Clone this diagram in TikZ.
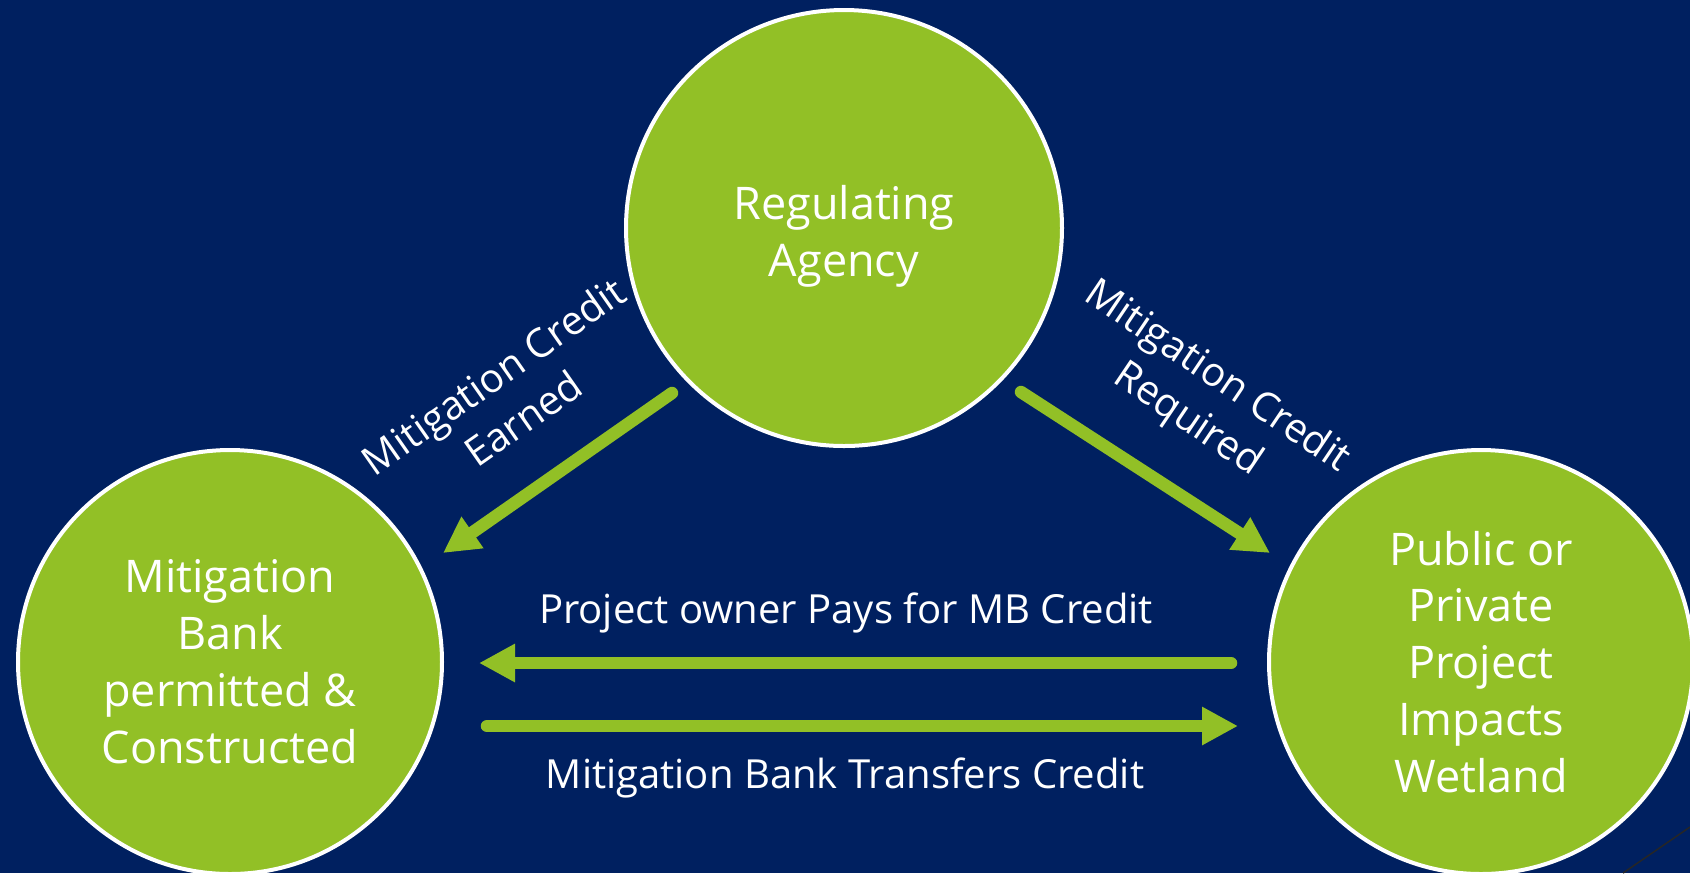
\documentclass[tikz,border=0pt]{standalone}
\usepackage{fontspec}
\setmainfont{Open Sans}
\usetikzlibrary{arrows.meta}
\definecolor{slidenavy}{RGB}{0,32,96}
\definecolor{leafgreen}{RGB}{146,192,38}
\tikzset{
	bubble/.style={circle, fill=leafgreen, draw=white, line width=0.4mm, inner sep=0pt,
		align=center, text=white, font=\fontsize{12.8}{16.2}\selectfont},
	flow/.style={leafgreen, line width=1.25mm, line cap=round,
		-{Triangle[length=3.6mm, width=3.6mm]}},
	flowlabel/.style={text=white, inner sep=0pt, align=center,
		font=\fontsize{11.4}{14.8}\selectfont}
}

\begin{document}
\begin{tikzpicture}[x=0.1mm, y=-0.1mm]
			%%%%% START %%%%%
			
			\fill[slidenavy] (0, 0) rectangle (1690, 873);
			\useasboundingbox (0, 0) rectangle (1690, 873);
			
			\node[bubble, minimum size=43.6mm] (agency) at (844, 228) {\rule{0pt}{14.5pt}Regulating\\Agency};
			\node[bubble, minimum size=42.4mm] (bank) at (230, 662) {Mitigation\\Bank\\permitted \&\\Constructed};
			\node[bubble, minimum size=42.4mm] (project) at (1481, 662) {Public or\\Private\\Project\\Impacts\\Wetland};
			
			\coordinate (earnedtail) at (672, 393);
			\coordinate (earnedtip) at (443, 553);
			\coordinate (requiredtail) at (1021, 392);
			\coordinate (requiredtip) at (1270, 553);
			\coordinate (paystail) at (1231, 663);
			\coordinate (paystip) at (479, 663);
			\coordinate (transferstail) at (487, 726);
			\coordinate (transferstip) at (1238, 726);
			
			\draw[flow] (earnedtail) -- (earnedtip);
			\draw[flow] (requiredtail) -- (requiredtip);
			\draw[flow] (paystail) -- (paystip);
			\draw[flow] (transferstail) -- (transferstip);
			
			\node[flowlabel, rotate=35] (earnedlabel) at (508, 397) {Mitigation Credit\\Earned};
			\node[flowlabel, rotate=-34] (requiredlabel) at (1202, 399) {Mitigation Credit\\Required};
			\node[flowlabel, anchor=base] (payslabel) at (846, 623) {Project owner Pays for MB Credit};
			\node[flowlabel, anchor=base] (transferslabel) at (845, 788) {Mitigation Bank Transfers Credit};
			
			\draw[black!85, line width=0.15mm] (1623, 873) -- (1690, 827);
			
			%%%%% END %%%%%
\end{tikzpicture}
\end{document}
